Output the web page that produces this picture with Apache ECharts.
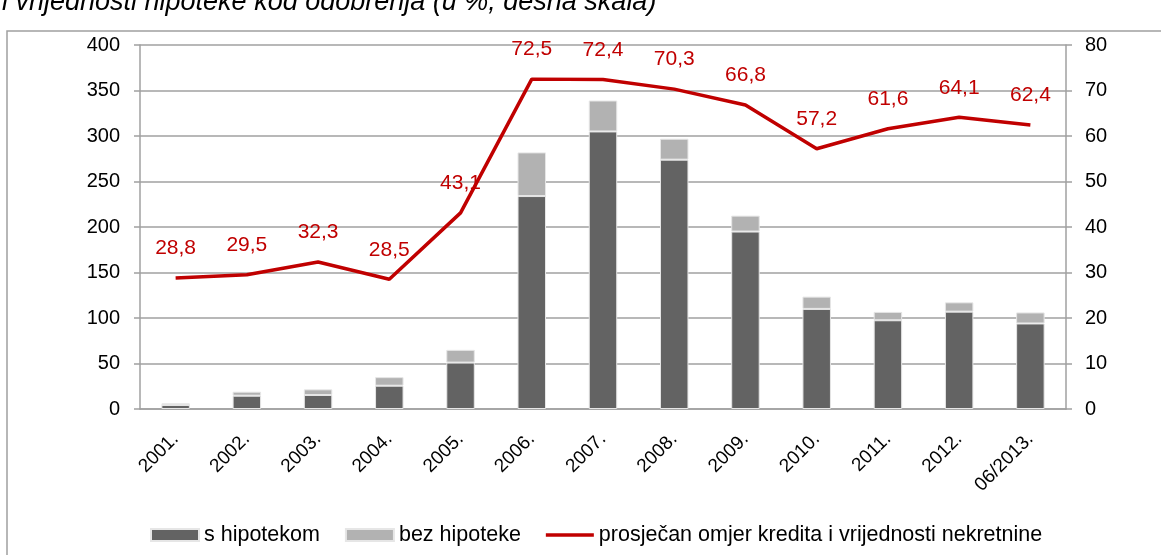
<!DOCTYPE html>
<html>
<head>
<meta charset="utf-8">
<script src="https://cdn.jsdelivr.net/npm/echarts@6/dist/echarts.min.js"></script>
<style>
  html, body { margin: 0; padding: 0; background: #fff; }
  #chart { width: 1161px; height: 555px; }
</style>
</head>
<body>
<div id="chart"></div>
<script>
// podaci
var godine = ['2001.', '2002.', '2003.', '2004.', '2005.', '2006.', '2007.', '2008.', '2009.', '2010.', '2011.', '2012.', '06/2013.'];
var sHipotekom = [4.4, 14.6, 15.4, 25.6, 51, 234, 305, 274, 195, 110, 97.5, 107, 94];
var bezHipoteke = [1.8, 4.4, 6.2, 9.4, 14, 48, 34, 23, 17.5, 13.5, 9.2, 10.2, 12.1];
var omjer = [28.8, 29.5, 32.3, 28.5, 43.1, 72.5, 72.4, 70.3, 66.8, 57.2, 61.6, 64.1, 62.4];

var font = 'Liberation Sans, Arial, sans-serif';
// tanka crta za legendu (okvir 48x12)
var ikonaCrte = 'path://M0,0 M0,4.3 L48,4.3 L48,7.7 L0,7.7 Z M48,12';

var myChart = echarts.init(document.getElementById('chart'));
var option = {
    animation: false,
    backgroundColor: '#fff',
    textStyle: { fontFamily: font },
    graphic: [{
        type: 'rect',
        shape: { x: 7, y: 31, width: 1300, height: 700 },
        style: { fill: 'none', stroke: '#a0a0a0', lineWidth: 1.5 },
        silent: true
    }, {
        type: 'text',
        left: 2, top: -11,
        style: {
            text: 'i vrijednosti hipoteke kod odobrenja (u %, desna skala)',
            font: 'italic 27px Liberation Sans, Arial, sans-serif',
            fill: '#000'
        },
        silent: true
    }],
    grid: { left: 140, right: 95, top: 45, bottom: 146 },
    legend: {
        bottom: 9,
        left: 150,
        padding: 0,
        itemWidth: 48,
        itemHeight: 12,
        itemGap: 25,
        textStyle: { fontSize: 21.5, color: '#000', fontFamily: font },
        data: [
            { name: 's hipotekom', icon: 'rect' },
            { name: 'bez hipoteke', icon: 'rect' },
            { name: 'prosječan omjer kredita i vrijednosti nekretnine', icon: ikonaCrte }
        ]
    },
    xAxis: {
        type: 'category',
        data: godine,
        axisLine: { lineStyle: { color: '#a0a0a0', width: 1.5 } },
        axisTick: { length: 6, lineStyle: { color: '#a0a0a0', width: 1.5 } },
        axisLabel: { rotate: 45, fontSize: 19, color: '#000', margin: 27, interval: 0 }
    },
    yAxis: [{
        type: 'value',
        min: 0, max: 400, interval: 50,
        axisLine: { show: true, lineStyle: { color: '#a0a0a0', width: 1.5 } },
        axisTick: { show: true, length: 6, lineStyle: { color: '#a0a0a0', width: 1.5 } },
        axisLabel: { fontSize: 20, color: '#000', margin: 20 },
        splitLine: { lineStyle: { color: '#a0a0a0', width: 1.5 } }
    }, {
        type: 'value',
        min: 0, max: 80, interval: 10,
        axisLine: { show: true, lineStyle: { color: '#a0a0a0', width: 1.5 } },
        axisTick: { show: true, length: 6, lineStyle: { color: '#a0a0a0', width: 1.5 } },
        axisLabel: { fontSize: 20, color: '#000', margin: 19 },
        splitLine: { show: false }
    }],
    series: [{
        name: 's hipotekom',
        type: 'bar',
        stack: 'krediti',
        barWidth: '40%',
        data: sHipotekom,
        itemStyle: { color: '#636363', borderColor: '#e6e6e6', borderWidth: 1 }
    }, {
        name: 'bez hipoteke',
        type: 'bar',
        stack: 'krediti',
        data: bezHipoteke,
        itemStyle: { color: '#b2b2b2', borderColor: '#e6e6e6', borderWidth: 1 }
    }, {
        name: 'prosječan omjer kredita i vrijednosti nekretnine',
        type: 'line',
        yAxisIndex: 1,
        data: omjer,
        symbol: 'circle',
        symbolSize: 0,
        lineStyle: { color: '#c00000', width: 3.5 },
        itemStyle: { color: '#c00000' },
        label: {
            show: true,
            position: 'top',
            distance: 19,
            fontSize: 21,
            color: '#c00000',
            formatter: function (p) { return String(p.value).replace('.', ','); }
        }
    }]
};
myChart.setOption(option);
</script>
</body>
</html>
